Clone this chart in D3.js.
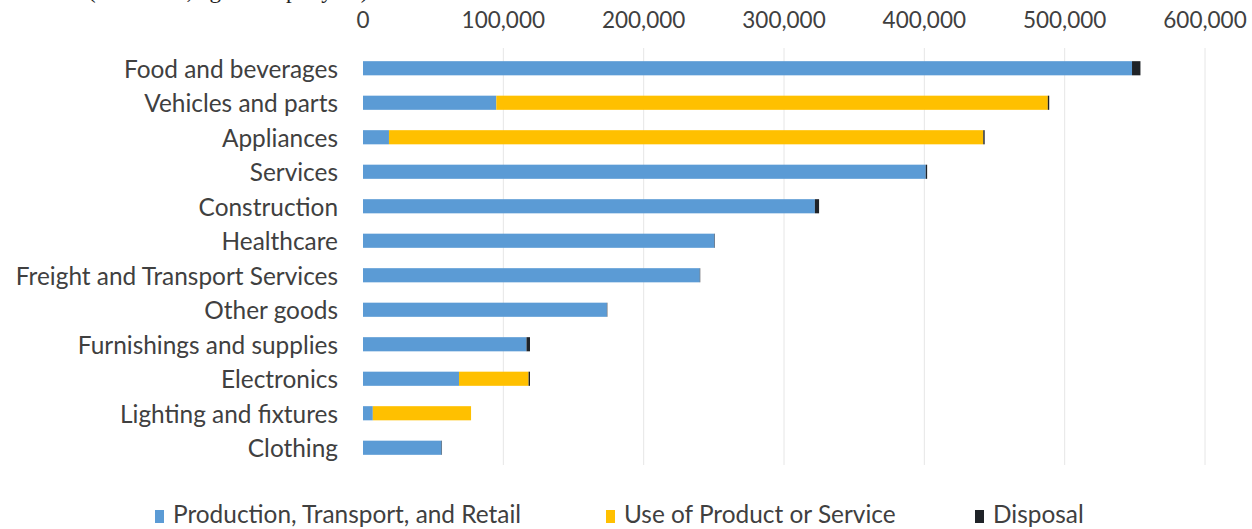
<!DOCTYPE html>
<html>
<head>
<meta charset="utf-8">
<script src="https://cdn.jsdelivr.net/npm/d3@7"></script>
<style>
  html, body { margin: 0; padding: 0; background: #fff; }
  svg { display: block; }
  .tick-label, .cat-label, .legend-label { font-family: Lato, "Open Sans", sans-serif; fill: #404040; }
</style>
</head>
<body>
<div id="chart"></div>
<script>
const categories = [
  "Food and beverages", "Vehicles and parts", "Appliances", "Services",
  "Construction", "Healthcare", "Freight and Transport Services", "Other goods",
  "Furnishings and supplies", "Electronics", "Lighting and fixtures", "Clothing"
];
const production = [548000, 95000, 18500, 401000, 322000, 250500, 240000, 173800, 116500, 68400, 7000, 56000];
const usePhase   = [0, 393000, 423500, 0, 0, 0, 0, 0, 0, 49600, 70000, 0];
const disposal   = [6000, 1000, 1000, 1000, 3000, 300, 300, 300, 2500, 1000, 0, 300];
const ticks = [0, 100000, 200000, 300000, 400000, 500000, 600000];
const seriesNames = ["Production, Transport, and Retail", "Use of Product or Service", "Disposal"];
const colors = ["#5b9bd5", "#ffc000", "#1f2328"];

const width = 1252, height = 529;
const svg = d3.select("#chart").append("svg")
  .attr("width", width).attr("height", height);

// partial title, cut off by the top edge as in the original crop
svg.append("text")
  .attr("x", 88).attr("y", -2)
  .attr("font-family", "'Liberation Serif', serif")
  .attr("font-size", 23).attr("fill", "#222")
  .text("(emissions, kg CO2e per year)");

const x = d3.scaleLinear().domain([0, 600000]).range([363, 1205]);
const y = d3.scaleBand().domain(categories).range([51, 465])
  .paddingInner(0.59).paddingOuter(0.295);

// gridlines
svg.append("g").selectAll("line").data(ticks.slice(1)).join("line")
  .attr("x1", d => x(d)).attr("x2", d => x(d))
  .attr("y1", 48).attr("y2", 465)
  .attr("stroke", "#e6e6e6").attr("stroke-width", 1);

// tick labels
svg.append("g").selectAll("text").data(ticks).join("text")
  .attr("class", "tick-label")
  .attr("x", d => x(d)).attr("y", 28)
  .attr("text-anchor", "middle").attr("font-size", 22.5)
  .attr("fill", "#595959")
  .text(d => d3.format(",")(d));

// stacked bars
const rows = categories.map((c, i) => ({ cat: c, values: [production[i], usePhase[i], disposal[i]] }));
const stack = d3.stack().keys([0, 1, 2]).value((d, k) => d.values[k]);
const layers = stack(rows);

svg.append("g").selectAll("g").data(layers).join("g")
  .attr("fill", (d, i) => colors[i])
  .selectAll("rect").data(d => d).join("rect")
  .attr("x", d => x(d[0]))
  .attr("y", d => y(d.data.cat))
  .attr("width", d => Math.max(0, x(d[1]) - x(d[0])))
  .attr("height", y.bandwidth());

// category labels
svg.append("g").selectAll("text").data(categories).join("text")
  .attr("class", "cat-label")
  .attr("x", 338).attr("y", d => y(d) + y.bandwidth() / 2 + 1)
  .attr("dy", "0.35em").attr("text-anchor", "end")
  .attr("font-size", 24.4)
  .text(d => d);

// legend
const legendX = [155, 606, 975];
const legend = svg.append("g").selectAll("g").data(seriesNames).join("g")
  .attr("transform", (d, i) => `translate(${legendX[i]},0)`);
legend.append("rect")
  .attr("x", 0).attr("y", 510).attr("width", 9).attr("height", 13)
  .attr("fill", (d, i) => colors[i]);
legend.append("text")
  .attr("class", "legend-label")
  .attr("x", 18).attr("y", 523).attr("font-size", 24.4)
  .text(d => d);
</script>
</body>
</html>
